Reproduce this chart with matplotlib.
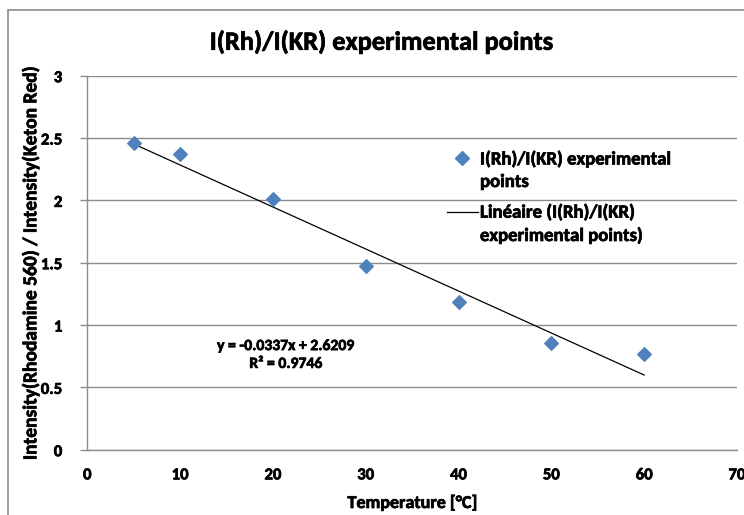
import numpy as np
import matplotlib.pyplot as plt
from matplotlib import font_manager as fm
from matplotlib import patheffects as pe
from matplotlib.lines import Line2D
from matplotlib.patches import Rectangle
from matplotlib.text import Text

# data
temperature = [5, 10, 20, 30, 40, 50, 60]
ratio = [2.457, 2.371, 2.013, 1.473, 1.187, 0.853, 0.767]

# Excel linear trendline as printed on the chart
slope = -0.0337
intercept = 2.6209
r_squared = 0.9746

x_ticks = [0, 10, 20, 30, 40, 50, 60, 70]
y_ticks = [0, 0.5, 1, 1.5, 2, 2.5, 3]
y_tick_labels = ['0', '0.5', '1', '1.5', '2', '2.5', '3']

points_label = 'I(Rh)/I(KR) experimental\npoints'
trend_label = 'Linéaire (I(Rh)/I(KR)\nexperimental points)'

# Calibri-like bold font (Carlito), picked by file so the bold face is really used
bold_files = [f.fname for f in fm.fontManager.ttflist
              if f.name == 'Carlito' and f.weight == 700 and f.style == 'normal']
if bold_files:
    def fp(size):
        return fm.FontProperties(fname=bold_files[0], size=size)
else:
    def fp(size):
        return fm.FontProperties(family='DejaVu Sans', weight='bold', size=size)

W, H = 744, 515
fig = plt.figure(figsize=(W / 100, H / 100), dpi=100)


def fx(px):
    return px / W


def fy(py):
    return 1 - py / H


# chart frame (cropped on the right and bottom)
fig.patches.append(Rectangle((fx(8), -0.1), 1.2, fy(10) + 0.1, transform=fig.transFigure,
                             fill=False, edgecolor='#8c8c8c', lw=1.2))

left, right, top, bottom = 87.3, 737, 75.7, 449.7
ax = fig.add_axes([fx(left), fy(bottom), (right - left) / W, (bottom - top) / H])
ax.patch.set_alpha(0)

blue = '#4F81BD'
ax.scatter(temperature, ratio, marker='D', s=48, color=blue, zorder=3)
x_fit = np.array([temperature[0], temperature[-1]])
ax.plot(x_fit, slope * x_fit + intercept, color='k', lw=0.9, zorder=2)

ax.set_xlim(0, 70)
ax.set_ylim(0, 3)
ax.set_xticks(x_ticks)
ax.set_yticks(y_ticks)
ax.set_yticklabels(y_tick_labels)
ax.tick_params(axis='x', length=0, pad=12)
ax.tick_params(axis='y', length=5, width=1, color='#8c8c8c', direction='out', pad=13)
for lab in ax.get_xticklabels() + ax.get_yticklabels():
    lab.set_fontproperties(fp(12))
ax.grid(axis='y', color='#8c8c8c', lw=1)
ax.set_axisbelow(True)
for s in ['top', 'right']:
    ax.spines[s].set_visible(False)
for s in ['left', 'bottom']:
    ax.spines[s].set_color('#8c8c8c')
    ax.spines[s].set_linewidth(1)

ax.set_xlabel('Temperature [°C]', fontproperties=fp(13))
ax.xaxis.set_label_coords(0.5, -(503 - bottom) / (bottom - top), transform=ax.transAxes)
ax.xaxis.label.set_va('center')
ax.set_ylabel('Intensity(Rhodamine 560) / Intensity(Keton Red)', fontproperties=fp(14))
ax.yaxis.set_label_coords(-(left - 31) / (right - left), 0.5)
ax.yaxis.label.set_va('center')

fig.text(fx(381.5), fy(42), 'I(Rh)/I(KR) experimental points', ha='center', va='center',
         fontproperties=fp(19))

fig.text(fx(286), fy(355), 'y = %.4fx + %.4f\nR² = %.4f' % (slope, intercept, r_squared),
         ha='center', va='center', fontproperties=fp(11.3), linespacing=1.35)

# legend drawn by hand, Excel style: symbol on the first line of each wrapped label
# (va='baseline' puts the last line on the given y, so give the second line's baseline)
fig.add_artist(Line2D([fx(462)], [fy(158)], marker='D', ms=7, color=blue, ls='none',
                      transform=fig.transFigure))
fig.text(fx(480), fy(187), points_label, ha='left', va='baseline',
         fontproperties=fp(13.5), linespacing=1.5)
fig.add_artist(Line2D([fx(447), fx(478)], [fy(212), fy(212)], color='k', lw=0.9,
                      transform=fig.transFigure))
fig.text(fx(480), fy(241), trend_label, ha='left', va='baseline',
         fontproperties=fp(13.5), linespacing=1.5)

# thicken strokes a little so the bold face reads like the Excel rendering
for t in fig.findobj(Text):
    t.set_path_effects([pe.withStroke(linewidth=0.5, foreground='black')])

fig.savefig('out.png', dpi=100)
